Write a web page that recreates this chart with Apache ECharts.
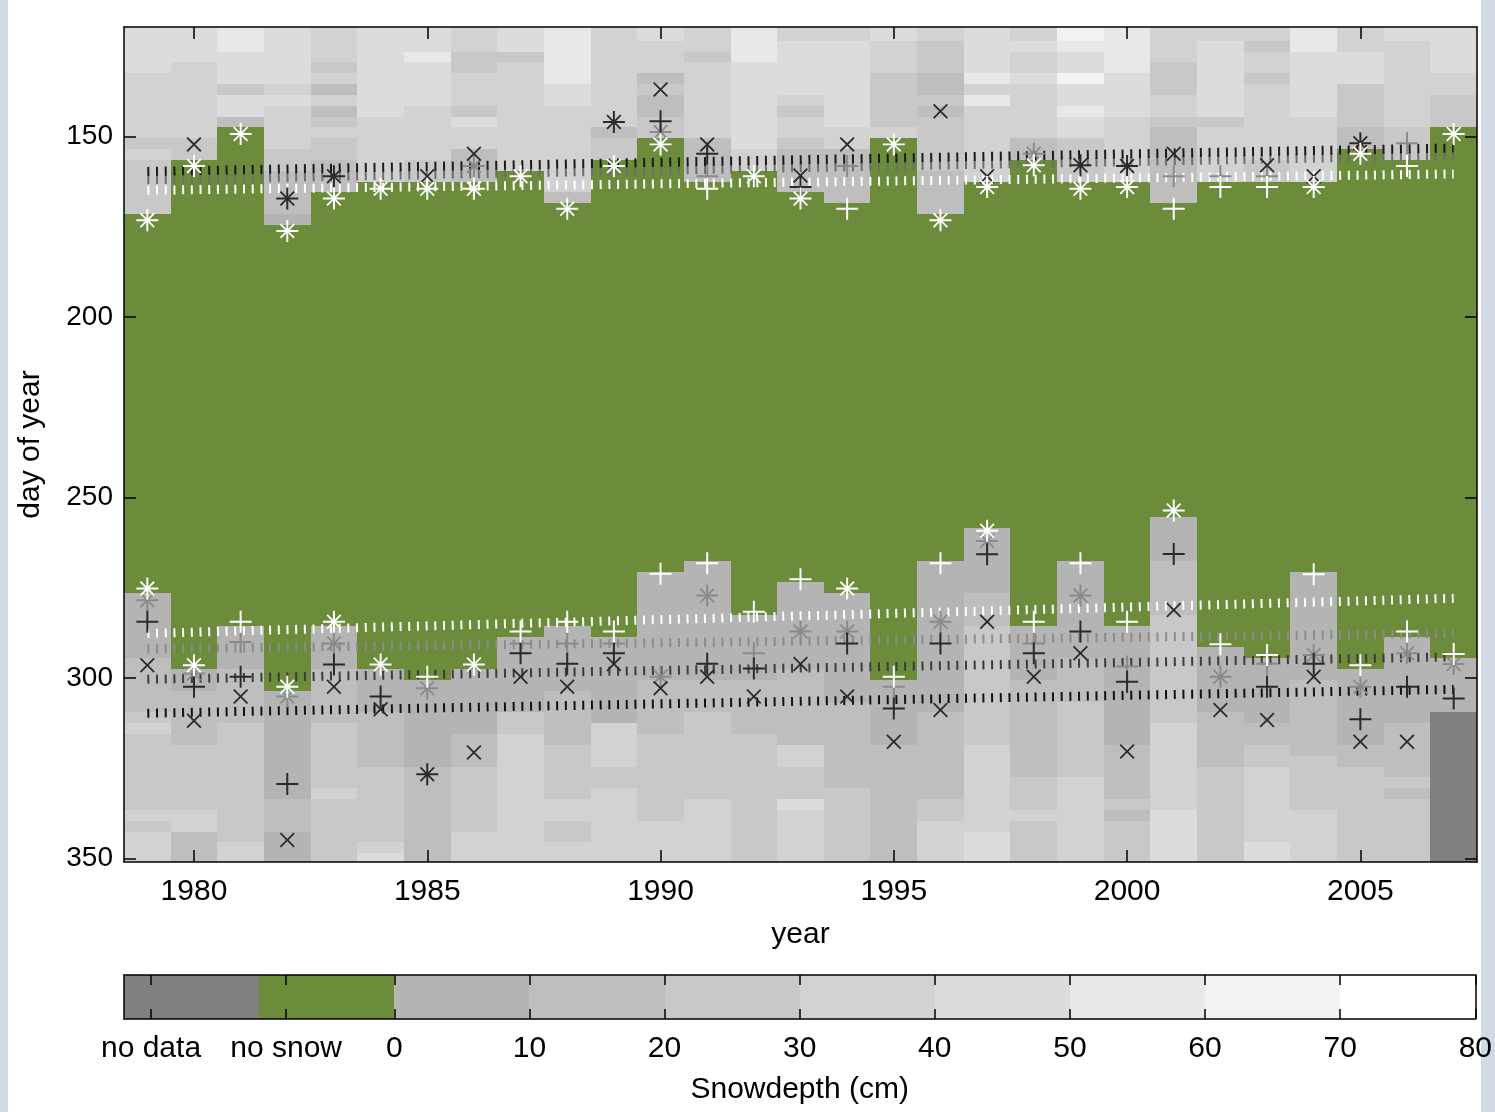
<!DOCTYPE html>
<html>
<head>
<meta charset="utf-8">
<script src="https://cdn.jsdelivr.net/npm/echarts@6/dist/echarts.min.js"></script>
<style>
html,body{margin:0;padding:0;background:#fff;}
#c{width:1495px;height:1112px;}
</style>
</head>
<body>
<div id="c"></div>
<script>
// ---------------- DATA ----------------
const years = [1979,1980,1981,1982,1983,1984,1985,1986,1987,1988,1989,1990,1991,1992,1993,1994,1995,1996,1997,1998,1999,2000,2001,2002,2003,2004,2005,2006,2007];
// last day of snow cover in spring (start of snow-free period)
const meltDay = [171.5,156.5,147.5,174.5,165.5,162.5,162.5,162.5,159.5,168.5,156.5,150.5,162.5,159.5,165.5,168.5,150.5,171.5,162.5,156.5,162.5,162.5,168.5,162.5,162.5,162.5,153.5,156.5,147.5];
// first day of snow cover in autumn (end of snow-free period)
const onsetDay = [276.5,297.5,285.5,303.5,285.5,297.5,300.5,297.5,288.5,285.5,288.5,270.5,267.5,282.5,273.5,276.5,300.5,267.5,258.5,285.5,267.5,285.5,255.5,291.5,294.5,270.5,297.5,288.5,294.5];
// spring snow-depth cells per year: [fromDay, toDay, class] (class 0 = 0-10 cm ... 7 = 70-80 cm)
const snowTop = [
 [[119.5,132.5,4],[132.5,150.5,3],[150.5,153.5,2],[153.5,156.5,3],[156.5,171.5,2]],
 [[119.5,129.5,4],[129.5,150.5,3],[150.5,156.5,2]],
 [[119.5,126.5,5],[126.5,135.5,4],[135.5,138.5,2],[138.5,144.5,4],[144.5,147.5,1]],
 [[119.5,135.5,4],[135.5,138.5,3],[138.5,141.5,4],[141.5,153.5,3],[153.5,159.5,2],[159.5,171.5,1],[171.5,174.5,0]],
 [[119.5,129.5,3],[129.5,132.5,2],[132.5,135.5,3],[135.5,138.5,1],[138.5,141.5,3],[141.5,144.5,1],[144.5,147.5,2],[147.5,150.5,3],[150.5,156.5,2],[156.5,165.5,1]],
 [[119.5,144.5,4],[144.5,162.5,3]],
 [[119.5,126.5,4],[126.5,129.5,5],[129.5,141.5,4],[141.5,156.5,3],[156.5,162.5,2]],
 [[119.5,126.5,3],[126.5,132.5,2],[132.5,141.5,3],[141.5,144.5,2],[144.5,147.5,4],[147.5,153.5,3],[153.5,162.5,1]],
 [[119.5,126.5,4],[126.5,129.5,2],[129.5,159.5,3]],
 [[119.5,135.5,5],[135.5,141.5,4],[141.5,165.5,3],[165.5,168.5,1]],
 [[119.5,147.5,3],[147.5,150.5,1],[150.5,156.5,2]],
 [[119.5,123.5,4],[123.5,132.5,3],[132.5,135.5,1],[135.5,138.5,2],[138.5,144.5,1],[144.5,150.5,2]],
 [[119.5,126.5,3],[126.5,129.5,2],[129.5,150.5,3],[150.5,162.5,1]],
 [[119.5,129.5,5],[129.5,153.5,4],[153.5,159.5,3]],
 [[119.5,123.5,3],[123.5,138.5,4],[138.5,141.5,3],[141.5,144.5,2],[144.5,150.5,3],[150.5,153.5,2],[153.5,165.5,1]],
 [[119.5,123.5,3],[123.5,147.5,4],[147.5,153.5,3],[153.5,168.5,1]],
 [[119.5,123.5,4],[123.5,132.5,3],[132.5,147.5,2],[147.5,150.5,3]],
 [[119.5,123.5,3],[123.5,132.5,2],[132.5,138.5,1],[138.5,141.5,2],[141.5,144.5,1],[144.5,159.5,2],[159.5,171.5,1]],
 [[119.5,132.5,4],[132.5,135.5,5],[135.5,138.5,3],[138.5,141.5,5],[141.5,162.5,3]],
 [[119.5,123.5,3],[123.5,126.5,4],[126.5,132.5,3],[132.5,135.5,4],[135.5,150.5,3],[150.5,156.5,1]],
 [[119.5,123.5,6],[123.5,126.5,5],[126.5,132.5,4],[132.5,135.5,6],[135.5,141.5,4],[141.5,144.5,5],[144.5,150.5,4],[150.5,162.5,2]],
 [[119.5,132.5,5],[132.5,144.5,4],[144.5,162.5,3]],
 [[119.5,129.5,3],[129.5,138.5,2],[138.5,144.5,3],[144.5,147.5,2],[147.5,168.5,1]],
 [[119.5,123.5,3],[123.5,144.5,4],[144.5,147.5,2],[147.5,162.5,3]],
 [[119.5,123.5,3],[123.5,126.5,2],[126.5,132.5,3],[132.5,135.5,2],[135.5,156.5,3],[156.5,162.5,2]],
 [[119.5,126.5,5],[126.5,144.5,4],[144.5,162.5,3]],
 [[119.5,126.5,3],[126.5,135.5,4],[135.5,147.5,2],[147.5,153.5,1]],
 [[119.5,123.5,4],[123.5,147.5,3],[147.5,156.5,2]],
 [[119.5,132.5,4],[132.5,138.5,3],[138.5,147.5,2]]
];
// autumn snow-depth cells per year (class -2 = no data)
const snowBottom = [
 [[276.5,294.5,0],[294.5,309.5,1],[309.5,312.5,2],[312.5,315.5,3],[315.5,336.5,2],[336.5,339.5,3],[339.5,342.5,2],[342.5,351,3]],
 [[297.5,303.5,0],[303.5,318.5,1],[318.5,336.5,2],[336.5,342.5,3],[342.5,351,1]],
 [[285.5,297.5,0],[297.5,312.5,1],[312.5,345.5,2],[345.5,351,3]],
 [[303.5,333.5,0],[333.5,342.5,1],[342.5,351,0]],
 [[285.5,297.5,0],[297.5,312.5,1],[312.5,330.5,2],[330.5,333.5,3],[333.5,351,2]],
 [[297.5,309.5,0],[309.5,324.5,1],[324.5,345.5,2],[345.5,348.5,3],[348.5,351,4]],
 [[300.5,324.5,0],[324.5,351,1]],
 [[297.5,315.5,0],[315.5,324.5,1],[324.5,342.5,2],[342.5,351,3]],
 [[288.5,309.5,0],[309.5,315.5,2],[315.5,351,3]],
 [[285.5,303.5,0],[303.5,318.5,1],[318.5,333.5,2],[333.5,339.5,3],[339.5,345.5,2],[345.5,351,3]],
 [[288.5,312.5,0],[312.5,324.5,3],[324.5,330.5,2],[330.5,351,3]],
 [[270.5,300.5,0],[300.5,315.5,1],[315.5,339.5,2],[339.5,351,3]],
 [[267.5,300.5,0],[300.5,309.5,1],[309.5,333.5,2],[333.5,351,3]],
 [[282.5,300.5,0],[300.5,315.5,1],[315.5,351,2]],
 [[273.5,297.5,0],[297.5,318.5,1],[318.5,324.5,3],[324.5,333.5,2],[333.5,336.5,4],[336.5,351,3]],
 [[276.5,306.5,0],[306.5,330.5,1],[330.5,351,2]],
 [[300.5,318.5,0],[318.5,351,1]],
 [[267.5,309.5,0],[309.5,333.5,1],[333.5,339.5,2],[339.5,351,3]],
 [[258.5,276.5,0],[276.5,285.5,1],[285.5,318.5,2],[318.5,342.5,3],[342.5,351,4]],
 [[285.5,300.5,0],[300.5,327.5,1],[327.5,336.5,2],[336.5,339.5,3],[339.5,351,2]],
 [[267.5,294.5,0],[294.5,306.5,1],[306.5,327.5,2],[327.5,351,3]],
 [[285.5,318.5,0],[318.5,333.5,1],[333.5,336.5,2],[336.5,339.5,1],[339.5,351,2]],
 [[255.5,267.5,0],[267.5,282.5,1],[282.5,312.5,2],[312.5,336.5,3],[336.5,351,4]],
 [[291.5,309.5,0],[309.5,324.5,1],[324.5,351,2]],
 [[294.5,312.5,0],[312.5,318.5,1],[318.5,324.5,2],[324.5,345.5,3],[345.5,351,4]],
 [[270.5,300.5,0],[300.5,321.5,1],[321.5,336.5,2],[336.5,351,3]],
 [[297.5,318.5,0],[318.5,324.5,1],[324.5,351,2]],
 [[288.5,312.5,0],[312.5,327.5,1],[327.5,330.5,2],[330.5,333.5,1],[333.5,351,2]],
 [[294.5,309.5,0],[309.5,351,-2]]
];
// markers (day of year, null = none)
const whitePlusTop  = [173.2,158.2,149.3,176.2,167.2,164.5,164.5,164.5,161.0,170.0,158.2,152.2,164.5,161.0,167.2,170.0,152.2,173.2,164.0,158.0,164.5,164.0,170.0,164.0,164.0,164.0,154.8,158.2,149.3];
const whiteCrossTop = [173.2,158.2,149.3,176.2,167.2,164.5,164.5,164.5,161.0,170.0,158.2,152.2,null,161.0,167.2,null,152.2,173.2,164.0,158.0,164.5,164.0,null,null,null,164.0,154.8,null,149.3];
const grayPlusTop   = [null,null,null,null,null,null,null,158.2,null,null,null,148.8,161.0,null,null,158.2,null,null,null,154.8,null,null,161.0,161.0,161.0,null,null,151.9,null];
const grayCrossTop  = [null,null,null,null,null,null,null,158.2,null,null,null,148.8,null,null,null,null,null,null,null,154.8,null,null,null,null,null,null,null,null,null];
const blackPlusTop  = [null,null,null,167.2,161.0,null,null,null,null,null,146.0,145.8,154.8,null,164.0,null,null,null,null,null,158.0,158.2,null,null,null,null,151.9,null,null];
const blackCrossTop = [null,152.2,null,167.2,161.0,null,161.0,154.8,null,null,146.0,137.0,152.2,null,160.8,152.2,null,143.0,161.0,null,158.0,158.2,154.8,null,158.0,161.0,151.9,null,null];
const whitePlusBot  = [275.2,296.4,284.4,302.4,284.4,296.2,299.6,296.2,287.1,284.4,287.1,271.1,268.2,281.6,272.6,275.2,299.6,268.2,259.2,284.4,268.2,284.4,253.6,290.6,293.6,271.2,296.4,287.1,293.3];
const whiteCrossBot = [275.2,296.4,null,302.4,284.4,296.2,null,296.2,null,null,null,null,null,null,null,275.2,null,null,259.2,null,null,null,253.6,null,null,null,null,null,null];
const grayPlusBot   = [278.4,298.7,290.0,305.1,290.4,null,302.8,null,290.4,290.4,290.4,299.6,277.1,293.1,287.1,287.1,302.4,284.4,262.0,290.4,277.1,296.8,null,299.6,296.0,293.6,302.4,293.1,296.1];
const grayCrossBot  = [278.4,298.7,null,305.1,290.4,null,302.8,null,null,null,null,299.6,277.1,null,287.1,287.1,null,284.4,262.0,null,277.1,null,null,299.6,null,293.6,302.4,293.1,296.1];
const blackPlusBot  = [284.4,302.4,299.6,329.3,296.2,305.1,326.6,null,293.1,296.0,293.1,null,296.0,297.3,null,290.4,308.4,290.4,265.7,293.1,287.1,301.0,265.6,null,302.4,296.0,311.4,302.4,305.6];
const blackCrossBot = [296.4,311.8,305.1,344.8,302.4,308.6,326.6,320.6,299.6,302.4,296.1,302.8,299.6,305.1,296.1,305.1,317.6,308.8,284.4,299.6,293.1,320.3,281.1,308.8,311.6,299.6,317.6,317.6,null];
// linear trends: [start (1979), end (2007)]
const trendYears = [1979, 2007];
const trendTopWhite = [164.9, 160.4];
const trendTopGray  = [162.0, 155.3];
const trendTopBlack = [159.7, 153.2];
const trendBotWhite = [287.6, 277.9];
const trendBotGray  = [291.9, 287.6];
const trendBotDark  = [300.3, 294.1];
const trendBotBlack = [309.7, 303.1];
// axis ticks
const xTicks = [1980,1985,1990,1995,2000,2005];
const yTicks = [150,200,250,300,350];
// colour bar
const cbBins = [[-20,-10,-2],[-10,0,-1],[0,10,0],[10,20,1],[20,30,2],[30,40,3],[40,50,4],[50,60,5],[60,70,6],[70,80,7]];
const cbTickValues = [-18,-8,0,10,20,30,40,50,60,70,80];
const cbTickLabels = ['no data','no snow','0','10','20','30','40','50','60','70','80'];

// ---------------- STYLE ----------------
const NODATA = '#808080', NOSNOW = '#6c8b3b';
const GRAYS = ['#b4b4b4','#bebebe','#c8c8c8','#d2d2d2','#dcdcdc','#e8e8e8','#f3f3f3','#ffffff'];
function clsColor(c){ return c === -2 ? NODATA : (c === -1 ? NOSNOW : GRAYS[c]); }
const FONT = 'Liberation Sans, Arial, sans-serif';
const PLUS = 'path://M9.1,0H10.9V9.1H20V10.9H10.9V20H9.1V10.9H0V9.1H9.1Z';
const CROSS = 'path://M0,1.7L1.7,0L10,8.3L18.3,0L20,1.7L11.7,10L20,18.3L18.3,20L10,11.7L1.7,20L0,18.3L8.3,10Z';

// ---------------- BUILD ----------------
const cellData = [];
years.forEach((y,i)=>{
  snowTop[i].forEach(c=>cellData.push([y,c[0],c[1],c[2]]));
  cellData.push([y, meltDay[i], onsetDay[i], -1]);
  snowBottom[i].forEach(c=>cellData.push([y,c[0],c[1],c[2]]));
});
function pts(arr){ const out=[]; arr.forEach((v,i)=>{ if(v!==null) out.push([years[i],v]); }); return out; }
function renderCell(params, api){
  const yr = api.value(0), a = api.value(1), b = api.value(2), cls = api.value(3);
  const p0 = api.coord([yr-0.5, a]), p1 = api.coord([yr+0.5, b]);
  const cs = params.coordSys;
  const x0 = Math.round(Math.min(p0[0],p1[0])), x1 = Math.round(Math.max(p0[0],p1[0]));
  const y0 = Math.round(Math.min(p0[1],p1[1])), y1 = Math.round(Math.max(p0[1],p1[1]));
  const r = echarts.graphic.clipRectByRect(
    {x:x0, y:y0, width:x1-x0, height:y1-y0},
    {x: cs.x, y: cs.y, width: cs.width, height: cs.height});
  if(!r) return;
  return {type:'rect', shape:r, style:{fill:clsColor(cls)}};
}
function renderBin(params, api){
  const a = api.value(0), b = api.value(1), cls = api.value(2);
  const p0 = api.coord([a, 0]), p1 = api.coord([b, 1]);
  const x0 = Math.round(p0[0]), x1 = Math.round(p1[0]);
  return {type:'rect', shape:{x:x0, y:p1[1], width:x1-x0, height:p0[1]-p1[1]}, style:{fill:clsColor(cls)}};
}
function markerSeries(data, shape, color, z){
  return {type:'scatter', xAxisIndex:0, yAxisIndex:0, data:pts(data), symbol: shape==='plus'?PLUS:CROSS,
    symbolSize: shape==='plus'?22:15, itemStyle:{color:color, opacity:1}, z:z, silent:true};
}
function trendSeries(vals, color, z){
  return {type:'line', xAxisIndex:0, yAxisIndex:0, data:[[trendYears[0],vals[0]],[trendYears[1],vals[1]]],
    showSymbol:false, symbol:'none', silent:true, z:z,
    lineStyle:{color:color, width:9, type:[2,6.7], cap:'butt'}};
}
const axisLineStyle = {show:true, onZero:false, lineStyle:{color:'#000', width:1.5}};
const txt = {color:'#000', fontFamily:FONT, fontSize:30};
const txtY = {color:'#000', fontFamily:FONT, fontSize:28};
const plain = (v)=>String(v);

const option = {
  animation:false,
  backgroundColor:'#fff',
  graphic:[
    {type:'rect', left:0, top:0, shape:{width:8, height:1112}, style:{fill:'#d3d9e5'}},
    {type:'rect', left:1481, top:0, shape:{width:14, height:1112}, style:{fill:'#d3d9e5'}}
  ],
  grid:[
    {left:124, top:27, width:1353, height:835},
    {left:124, top:975, width:1353, height:44}
  ],
  xAxis:[
    {gridIndex:0, type:'value', min:1978.5, max:2007.5, position:'bottom', z:10,
      axisLine:axisLineStyle, splitLine:{show:false},
      axisTick:{show:true, inside:true, length:12, customValues:xTicks, lineStyle:{color:'#000', width:1.5}},
      axisLabel:Object.assign({show:true, customValues:xTicks, margin:15, formatter:plain}, txt),
      name:'year', nameLocation:'middle', nameGap:58, nameTextStyle:txt},
    {gridIndex:0, type:'value', min:1978.5, max:2007.5, position:'top', z:10,
      axisLine:axisLineStyle, splitLine:{show:false},
      axisTick:{show:true, inside:true, length:12, customValues:xTicks, lineStyle:{color:'#000', width:1.5}},
      axisLabel:{show:false}},
    {gridIndex:1, type:'value', min:-20, max:80, position:'bottom', z:10,
      axisLine:axisLineStyle, splitLine:{show:false},
      axisTick:{show:true, inside:true, length:10, customValues:cbTickValues, lineStyle:{color:'#000', width:1.5}},
      axisLabel:Object.assign({show:true, customValues:cbTickValues, margin:15,
        formatter:(v)=>{ const k = cbTickValues.indexOf(v); return k>=0 ? cbTickLabels[k] : ''; }}, txt),
      name:'Snowdepth (cm)', nameLocation:'middle', nameGap:56, nameTextStyle:txt},
    {gridIndex:1, type:'value', min:-20, max:80, position:'top', z:10,
      axisLine:axisLineStyle, splitLine:{show:false},
      axisTick:{show:true, inside:true, length:10, customValues:cbTickValues, lineStyle:{color:'#000', width:1.5}},
      axisLabel:{show:false}}
  ],
  yAxis:[
    {gridIndex:0, type:'value', inverse:true, min:119.7, max:350.9, position:'left', z:10,
      axisLine:axisLineStyle, splitLine:{show:false},
      axisTick:{show:true, inside:true, length:12, customValues:yTicks, lineStyle:{color:'#000', width:1.5}},
      axisLabel:Object.assign({show:true, customValues:yTicks, margin:11, formatter:plain}, txtY),
      name:'day of year', nameLocation:'middle', nameRotate:90, nameGap:78, nameTextStyle:txt},
    {gridIndex:0, type:'value', inverse:true, min:119.7, max:350.9, position:'right', z:10,
      axisLine:axisLineStyle, splitLine:{show:false},
      axisTick:{show:true, inside:true, length:12, customValues:yTicks, lineStyle:{color:'#000', width:1.5}},
      axisLabel:{show:false}},
    {gridIndex:1, type:'value', min:0, max:1, position:'left', z:10,
      axisLine:axisLineStyle, axisTick:{show:false}, axisLabel:{show:false}, splitLine:{show:false}},
    {gridIndex:1, type:'value', min:0, max:1, position:'right', z:10,
      axisLine:axisLineStyle, axisTick:{show:false}, axisLabel:{show:false}, splitLine:{show:false}}
  ],
  series:[
    {type:'custom', xAxisIndex:0, yAxisIndex:0, data:cellData, renderItem:renderCell, silent:true, z:1,
      encode:{x:0, y:[1,2]}},
    {type:'custom', xAxisIndex:2, yAxisIndex:2, data:cbBins, renderItem:renderBin, silent:true, z:1,
      encode:{x:[0,1]}},
    trendSeries(trendTopGray, '#6e6e6e', 2),
    trendSeries(trendTopBlack, '#1a1a1a', 2),
    trendSeries(trendTopWhite, '#ffffff', 2),
    trendSeries(trendBotGray, '#8c8c8c', 2),
    trendSeries(trendBotDark, '#3c3c3c', 2),
    trendSeries(trendBotBlack, '#111111', 2),
    trendSeries(trendBotWhite, '#ffffff', 2),
    markerSeries(grayPlusTop, 'plus', '#8a8a8a', 3),
    markerSeries(grayCrossTop, 'cross', '#8a8a8a', 3),
    markerSeries(grayPlusBot, 'plus', '#8a8a8a', 3),
    markerSeries(grayCrossBot, 'cross', '#8a8a8a', 3),
    markerSeries(blackPlusTop, 'plus', '#2a2a2a', 4),
    markerSeries(blackCrossTop, 'cross', '#2a2a2a', 4),
    markerSeries(blackPlusBot, 'plus', '#2a2a2a', 4),
    markerSeries(blackCrossBot, 'cross', '#2a2a2a', 4),
    markerSeries(whitePlusTop, 'plus', '#ffffff', 5),
    markerSeries(whiteCrossTop, 'cross', '#ffffff', 5),
    markerSeries(whitePlusBot, 'plus', '#ffffff', 5),
    markerSeries(whiteCrossBot, 'cross', '#ffffff', 5)
  ]
};
const chart = echarts.init(document.getElementById('c'), null, {renderer:'canvas'});
chart.setOption(option);
</script>
</body>
</html>
